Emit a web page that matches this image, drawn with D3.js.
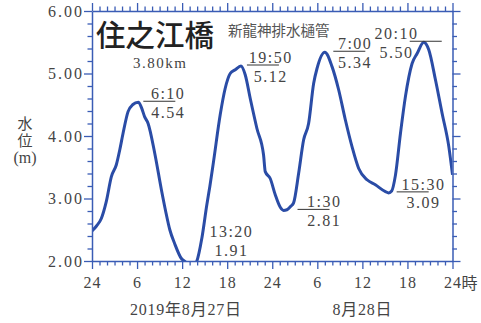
<!DOCTYPE html>
<html>
<head>
<meta charset="utf-8">
<script src="https://cdn.jsdelivr.net/npm/d3@7"></script>
<style>
  html, body { margin: 0; padding: 0; background: #fff; }
  svg { display: block; }
  .num { font-family: "Liberation Serif", "Noto Sans CJK JP", serif; fill: #444; }
  .cjk { font-family: "Noto Sans CJK JP", sans-serif; }
</style>
</head>
<body>
<svg id="chart" width="481" height="323"></svg>
<script>
// Water level at 住之江橋 (3.80km), 2019-08-27 00:00 to 2019-08-29 00:00
// hours counted from 00:00 on 8/27
const hours = [
  0, 0.6, 1.24, 1.9, 2.58, 3.24, 3.7, 4.13, 4.8, 5.4, 6.17, 6.6, 7.0, 7.47,
  8.36, 9.24, 9.8, 10.36, 11.0, 11.9, 12.4, 13.33, 13.96, 14.62, 15.29, 15.7,
  16.18, 17.07, 17.73, 18.4, 19.07, 19.83, 20.4, 21.07, 21.96, 22.84, 23.07,
  23.73, 24.4, 25.07, 25.5, 25.96, 26.5, 26.84, 27.51, 28.18, 28.84, 29.51,
  29.96, 31.0, 31.96, 32.84, 33.73, 34.62, 35.51, 36.62, 37.73, 39.07, 39.5,
  39.9, 40.4, 41.07, 41.73, 42.62, 43.29, 44.17, 44.84, 45.73, 46.62, 47.51, 48.0
];
const levels = [
  2.48, 2.56, 2.68, 2.95, 3.35, 3.54, 3.78, 4.04, 4.39, 4.50, 4.54, 4.45, 4.31, 4.20,
  3.72, 3.14, 2.80, 2.50, 2.28, 2.04, 1.99, 1.91, 2.00, 2.36, 2.90, 3.20,
  3.59, 4.34, 4.76, 5.00, 5.06, 5.12, 4.98, 4.60, 4.12, 3.70, 3.43,
  3.32, 3.06, 2.86, 2.81, 2.82, 2.88, 2.93, 3.40, 3.94, 4.20, 4.84,
  5.08, 5.34, 5.11, 4.74, 4.26, 3.83, 3.48, 3.30, 3.22, 3.11, 3.09,
  3.12, 3.37, 4.04, 4.63, 5.16, 5.32, 5.50, 5.38, 4.90, 4.36, 3.83, 3.38
];

// High / low water events
const eventTimes  = ["6:10", "13:20", "19:50", "1:30", "7:00", "15:30", "20:10"];
const eventHours  = [6.17, 13.33, 19.83, 25.5, 31.0, 39.5, 44.17];
const eventLevels = [4.54, 1.91, 5.12, 2.81, 5.34, 3.09, 5.50];

// Axis labels
const xMajorHours = [0, 6, 12, 18, 24, 30, 36, 42, 48];
const xTickLabels = ["24", "6", "12", "18", "24", "6", "12", "18", "24"];
const xUnit = "時";
const yMajorLevels = [2, 3, 4, 5, 6];
const dateLabels = ["2019年8月27日", "8月28日"];
const dateHours = [12.5, 36];
const stationName = "住之江橋";
const stationKm = "3.80km";
const gateName = "新龍神排水樋管";
const yTitle = "水位";
const yUnit = "(m)";

const svg = d3.select("#chart");
const plotLeft = 92, plotRight = 452.5, plotTop = 11, plotBottom = 261;

const x = d3.scaleLinear().domain([0, 48]).range([plotLeft, plotRight]);
const y = d3.scaleLinear().domain([2, 6]).range([plotBottom, plotTop]);

const axisColor = "#3a5cb5";
const lineColor = "#2a4ca6";

svg.append("defs").append("clipPath").attr("id", "plot")
  .append("rect").attr("x", plotLeft).attr("y", plotTop)
  .attr("width", plotRight - plotLeft).attr("height", plotBottom - plotTop);

// water level curve
const pts = hours.map((h, i) => [h, levels[i]]);
svg.append("path")
  .datum(pts)
  .attr("clip-path", "url(#plot)")
  .attr("fill", "none")
  .attr("stroke", lineColor)
  .attr("stroke-width", 3)
  .attr("stroke-linejoin", "round")
  .attr("d", d3.line().x(d => x(d[0])).y(d => y(d[1])).curve(d3.curveMonotoneX));

// axes: hourly / 0.2 m ticks, longer at the majors
const hourTicks = d3.range(0, 49);
const levelTicks = d3.range(0, 21).map(i => 2 + i * 0.2);
const isMajorH = h => h % 6 === 0;
const isMajorL = v => Math.abs(v - Math.round(v)) < 1e-6;

function styleAxis(g, major, dim, sign) {
  g.select(".domain").attr("stroke", axisColor).attr("stroke-width", 1.5);
  g.selectAll(".tick line")
    .attr("stroke", axisColor).attr("stroke-width", 1.3)
    .attr(dim, d => sign * (major(d) ? 8 : 4.5));
  g.selectAll(".tick text").remove();
}

const gB = svg.append("g").attr("transform", `translate(0,${plotBottom})`)
  .call(d3.axisBottom(x).tickValues(hourTicks).tickSizeOuter(0));
styleAxis(gB, isMajorH, "y2", 1);
const gT = svg.append("g").attr("transform", `translate(0,${plotTop})`)
  .call(d3.axisTop(x).tickValues(hourTicks).tickSizeOuter(0));
styleAxis(gT, isMajorH, "y2", -1);
const gL = svg.append("g").attr("transform", `translate(${plotLeft},0)`)
  .call(d3.axisLeft(y).tickValues(levelTicks).tickSizeOuter(0));
styleAxis(gL, isMajorL, "x2", -1);
const gR = svg.append("g").attr("transform", `translate(${plotRight},0)`)
  .call(d3.axisRight(y).tickValues(levelTicks).tickSizeOuter(0));
styleAxis(gR, isMajorL, "x2", 1);

// y tick labels
svg.selectAll(".ylab").data(yMajorLevels).join("text")
  .attr("class", "num")
  .attr("x", plotLeft - 8).attr("y", d => y(d) + 5.5)
  .attr("text-anchor", "end")
  .attr("font-size", 16).attr("letter-spacing", 2)
  .text(d => d.toFixed(2));

// x tick labels
svg.selectAll(".xlab").data(xMajorHours).join("text")
  .attr("class", "num")
  .attr("x", d => x(d) + 0.5).attr("y", 288)
  .attr("text-anchor", "middle")
  .attr("font-size", 16).attr("letter-spacing", 1)
  .text((d, i) => xTickLabels[i]);
svg.append("text").attr("class", "num")
  .attr("x", x(48) + 9).attr("y", 289)
  .attr("font-size", 16)
  .text(xUnit);

// date labels
svg.selectAll(".dlab").data(dateHours).join("text")
  .attr("class", "num")
  .attr("x", d => x(d)).attr("y", 315)
  .attr("text-anchor", "middle")
  .attr("font-size", 16).attr("letter-spacing", 0.8)
  .text((d, i) => dateLabels[i]);

// y axis title, written top-to-bottom, unit below it
svg.append("text").attr("class", "cjk")
  .attr("x", 25).attr("y", 116)
  .style("writing-mode", "vertical-rl")
  .attr("font-size", 15).attr("fill", "#444")
  .attr("letter-spacing", 1.5)
  .text(yTitle);
svg.append("text").attr("class", "num")
  .attr("x", 25).attr("y", 163)
  .attr("text-anchor", "middle")
  .attr("font-size", 16)
  .text(yUnit);

// station heading with its distance mark beneath
svg.append("text").attr("class", "cjk")
  .attr("x", 96).attr("y", 46)
  .attr("font-size", 29.5).attr("font-weight", 500).attr("fill", "#222")
  .text(stationName);
svg.append("text").attr("class", "num")
  .attr("x", 133).attr("y", 68)
  .attr("font-size", 15).attr("letter-spacing", 1.5)
  .text(stationKm);
svg.append("text").attr("class", "cjk")
  .attr("x", 228).attr("y", 36)
  .attr("font-size", 14.5).attr("fill", "#555")
  .text(gateName);

// event callouts: [underline offset from event, label centre offset]
const calloutOffsets = [[5, 29], [null, 38.5], [6, 29], [14, 40], [8.5, 29.5], [8, 34], [-14, -28]];
const underlineLen = 32;
eventTimes.forEach((t, i) => {
  const ex = x(eventHours[i]);
  const inside = eventLevels[i] >= y.domain()[0];
  const ay = inside ? y(eventLevels[i]) - 1 : y(y.domain()[0]) - 22;
  const [lineDx, textDx] = calloutOffsets[i];
  if (inside && lineDx !== null) {
    svg.append("line")
      .attr("x1", ex + lineDx).attr("x2", ex + lineDx + underlineLen)
      .attr("y1", ay).attr("y2", ay)
      .attr("stroke", "#333").attr("stroke-width", 1);
  }
  const g = svg.append("g").attr("class", "num")
    .attr("text-anchor", "middle").attr("font-size", 16).attr("letter-spacing", 1.5);
  g.append("text").attr("x", ex + textDx + 0.8).attr("y", ay - 2).text(t);
  g.append("text").attr("x", ex + textDx + 0.8).attr("y", ay + 16.5).text(eventLevels[i].toFixed(2));
});
</script>
</body>
</html>
